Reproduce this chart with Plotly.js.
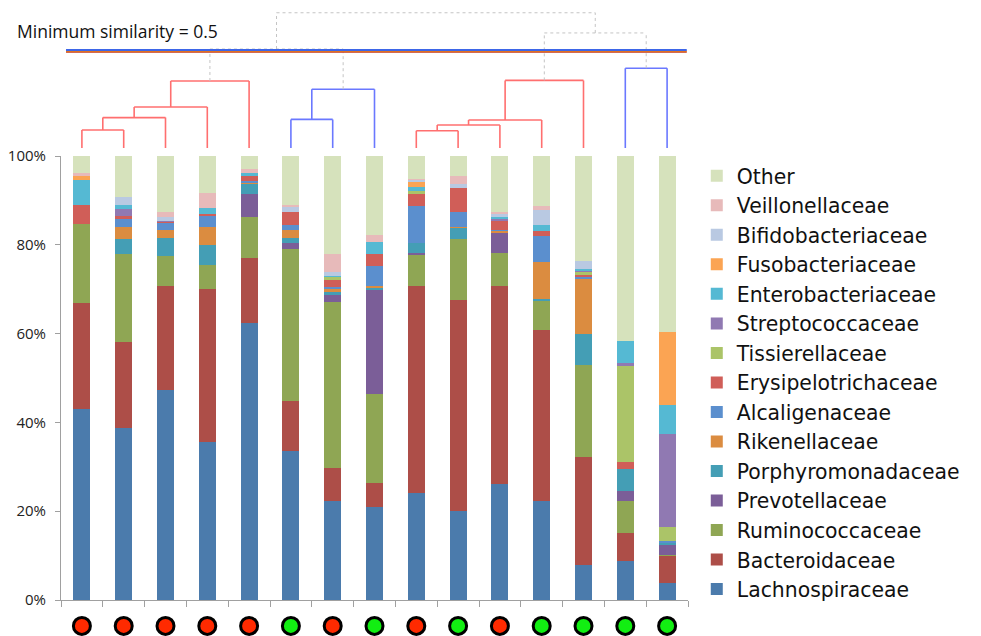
<!DOCTYPE html>
<html>
<head>
<meta charset="utf-8">
<script src="https://cdn.plot.ly/plotly-3.0.1.min.js"></script>
<style>html,body{margin:0;padding:0;background:#fff;}#chart{width:981px;height:636px;}</style>
</head>
<body>
<div id="chart"></div>
<script>
// ---- data ----
var samples = ["S1","S2","S3","S4","S5","S6","S7","S8","S9","S10","S11","S12","S13","S14","S15"];
var groups  = ["R","R","R","R","R","G","R","G","R","G","R","G","G","G","G"];

var families = ["Lachnospiraceae","Bacteroidaceae","Ruminococcaceae","Prevotellaceae","Porphyromonadaceae",
  "Rikenellaceae","Alcaligenaceae","Erysipelotrichaceae","Tissierellaceae","Streptococcaceae",
  "Enterobacteriaceae","Fusobacteriaceae","Bifidobacteriaceae","Veillonellaceae","Other"];

var lachnospiraceae    = [43.0, 38.7, 47.3, 35.5, 62.4, 33.6, 22.4, 21.0, 24.0, 20.0, 26.1, 22.2, 7.9, 8.8, 3.9];
var bacteroidaceae     = [24.0, 19.3, 23.4, 34.6, 14.7, 11.3, 7.3, 5.4, 46.8, 47.6, 44.7, 38.7, 24.3, 6.2, 5.9];
var ruminococcaceae    = [17.6, 19.9, 6.7, 5.3, 9.2, 34.2, 37.4, 20.1, 6.9, 13.7, 7.3, 6.4, 20.7, 7.3, 0.3];
var prevotellaceae     = [0, 0, 0, 0, 5.1, 1.2, 1.5, 23.3, 0.4, 0, 4.6, 0, 0, 2.2, 2.4];
var porphyromonadaceae = [0, 3.5, 4.2, 4.6, 2.2, 1.3, 0.7, 0.5, 2.2, 2.4, 0, 0.6, 6.9, 5.0, 0.4];
var rikenellaceae      = [0, 2.5, 1.8, 4.1, 0.3, 1.7, 0.8, 0.4, 0.2, 0.4, 0.3, 8.2, 12.6, 0, 0];
var alcaligenaceae     = [0, 2.0, 1.6, 2.5, 0.4, 1.1, 0.4, 4.5, 8.2, 3.2, 0.3, 5.8, 0.3, 0, 0.4];
var erysipelotrichaceae= [4.4, 0.6, 0.2, 0.3, 1.1, 3.0, 1.6, 2.7, 2.8, 5.6, 2.1, 1.3, 0.4, 1.6, 0];
var tissierellaceae    = [0, 0, 0, 0, 0, 0, 0.6, 0, 0.6, 0, 0, 0, 0.8, 21.7, 3.1];
var streptococcaceae   = [0, 1.6, 0.2, 0, 0, 0, 0, 0, 0, 0, 0.5, 0, 0.3, 0.6, 21.1];
var enterobacteriaceae = [5.7, 0.8, 0, 1.4, 0.8, 0, 0.3, 2.7, 0.9, 0, 0.4, 1.3, 0.3, 4.9, 6.5];
var fusobacteriaceae   = [0.9, 0, 0, 0, 0, 0, 0, 0, 1.1, 0, 0, 0, 0, 0, 16.4];
var bifidobacteriaceae = [0, 1.9, 0.9, 0, 0, 1.1, 0.9, 0, 0.5, 0.9, 0.6, 3.3, 1.8, 0, 0];
var veillonellaceae    = [0.5, 0, 1.1, 3.4, 0.9, 0.4, 4.0, 1.6, 0.3, 1.7, 0.6, 1.0, 0, 0, 0];
var other              = [3.9, 9.2, 12.6, 8.3, 2.9, 11.1, 22.1, 17.8, 5.1, 4.5, 12.5, 11.2, 23.7, 41.7, 39.6];

// dendrogram: [childA, childB, similarity]; leaves 0..14, new nodes 15..
var merges = [
  [0, 1, 0.908], [15, 2, 0.845], [16, 3, 0.791], [17, 4, 0.658],
  [5, 6, 0.854], [19, 7, 0.700],
  [8, 9, 0.912], [21, 10, 0.883], [22, 11, 0.857], [23, 12, 0.655],
  [13, 14, 0.593],
  [18, 20, 0.495], [24, 25, 0.413], [26, 27, 0.310]
];
var minSimilarity = 0.5;

// ---- styles ----
var colors = ["#4b7bac","#ad4e48","#8fa654","#7b5e98","#449eb5","#db8c40","#5b8fce","#d05e58",
  "#abc468","#9079b2","#55b9d3","#fba453","#b9c9e2","#e7baba","#d6e2bc"];
var seriesValues = [lachnospiraceae, bacteroidaceae, ruminococcaceae, prevotellaceae, porphyromonadaceae,
  rikenellaceae, alcaligenaceae, erysipelotrichaceae, tissierellaceae, streptococcaceae,
  enterobacteriaceae, fusobacteriaceae, bifidobacteriaceae, veillonellaceae, other];
var clusterColors = ["#ff6f6f", "#6a78ff"];
var groupColors = {R: "#ff2a00", G: "#12ee12"};

var traces = [];
families.forEach(function (f, i) {
  traces.push({
    type: "bar", name: f, x: samples, y: seriesValues[i],
    marker: {color: colors[i], line: {width: 0}},
    hoverinfo: "name+y"
  });
});
traces.push({
  type: "scatter", mode: "markers", x: samples, y: samples.map(function(){return 0.28;}), yaxis: "y3",
  marker: {size: 17, color: groups.map(function(g){return groupColors[g];}), line: {color: "#000", width: 3}},
  cliponaxis: false, showlegend: false, hoverinfo: "skip"
});
traces.push({type: "scatter", mode: "lines", x: samples, y: samples.map(function(){return null;}),
  yaxis: "y2", showlegend: false, hoverinfo: "skip"});

// build dendrogram shapes
var nodeX = [], nodeH = [];
for (var i = 0; i < samples.length; i++) { nodeX.push(i); nodeH.push(1.0); }
var shapes = [];
merges.forEach(function (m) {
  nodeX.push((nodeX[m[0]] + nodeX[m[1]]) / 2);
  nodeH.push(m[2]);
});
var parent = {};
merges.forEach(function (m, k) { parent[m[0]] = samples.length + k; parent[m[1]] = samples.length + k; });
var nodeColor = [];
var total = samples.length + merges.length;
var roots = [];
for (var n = samples.length; n < total; n++) {
  var p = parent[n];
  if (nodeH[n] >= minSimilarity && (p === undefined || nodeH[p] < minSimilarity)) roots.push(n);
}
roots.sort(function(a,b){return nodeX[a]-nodeX[b];});
function colorDown(n, c) {
  nodeColor[n] = c;
  if (n >= samples.length) { var m = merges[n - samples.length]; colorDown(m[0], c); colorDown(m[1], c); }
}
roots.forEach(function (r, k) { colorDown(r, clusterColors[k % 2]); });

merges.forEach(function (m, k) {
  var id = samples.length + k;
  var h = m[2];
  var inCluster = h >= minSimilarity;
  var line = inCluster ? {color: nodeColor[id], width: 1.6} : {color: "#c4c4c4", width: 1, dash: "dot"};
  [m[0], m[1]].forEach(function (c) {
    shapes.push({type: "line", xref: "x", yref: "y2", x0: nodeX[c], x1: nodeX[c], y0: nodeH[c], y1: h, line: line, layer: "below"});
  });
  shapes.push({type: "line", xref: "x", yref: "y2", x0: nodeX[m[0]], x1: nodeX[m[1]], y0: h, y1: h, line: line, layer: "below"});
});
// similarity threshold lines
shapes.push({type: "line", xref: "paper", yref: "y2", x0: 0.008, x1: 0.998, y0: minSimilarity + 0.011, y1: minSimilarity + 0.011, line: {color: "#c0392b", width: 1.2}});
shapes.push({type: "line", xref: "paper", yref: "y2", x0: 0.008, x1: 0.998, y0: minSimilarity + 0.007, y1: minSimilarity + 0.007, line: {color: "#e07020", width: 1.6}});
shapes.push({type: "line", xref: "paper", yref: "y2", x0: 0.008, x1: 0.998, y0: minSimilarity, y1: minSimilarity, line: {color: "#3d66e8", width: 1.8}});

var layout = {
  width: 981, height: 636,
  margin: {l: 61, r: 293, t: 8, b: 0},
  paper_bgcolor: "#fff", plot_bgcolor: "rgba(0,0,0,0)",
  font: {family: "Open Sans, sans-serif", color: "#111"},
  barmode: "stack", bargap: 0.59,
  showlegend: true,
  legend: {traceorder: "reversed", x: 1.014, xanchor: "left", y: 0.7643, yanchor: "top",
    font: {size: 20.4, family: "DejaVu Sans, sans-serif", color: "#111"}, tracegroupgap: 0, itemwidth: 30,
    bgcolor: "rgba(0,0,0,0)"},
  xaxis: {type: "category", range: [-0.5, 14.5], showticklabels: false, showline: true, linecolor: "#a0a0a0",
    linewidth: 1, ticks: "outside", tickson: "boundaries", ticklen: 6, tickcolor: "#a0a0a0", showgrid: false,
    zeroline: false, fixedrange: true, anchor: "y"},
  yaxis: {domain: [0.05732, 0.76433], range: [0, 100], dtick: 20, ticksuffix: "%", showline: true, linecolor: "#a0a0a0",
    ticks: "outside", ticklen: 5, tickcolor: "#a0a0a0", showgrid: false, zeroline: false,
    tickfont: {size: 15, color: "#222"}, ticklabelstandoff: 6, fixedrange: true},
  yaxis2: {domain: [0.77707, 0.99554], range: [1.0, 0.3], visible: false, anchor: "x", fixedrange: true},
  yaxis3: {domain: [0, 0.05732], range: [0, 1], visible: false, anchor: "x", fixedrange: true},
  shapes: shapes,
  annotations: [{text: "Minimum similarity = 0.5", xref: "paper", yref: "paper", x: -0.0734, y: 0.9634,
    xanchor: "left", yanchor: "middle", showarrow: false, font: {size: 17.5, color: "#111"}}]
};

Plotly.newPlot("chart", traces, layout, {displayModeBar: false, staticPlot: true});
</script>
</body>
</html>
